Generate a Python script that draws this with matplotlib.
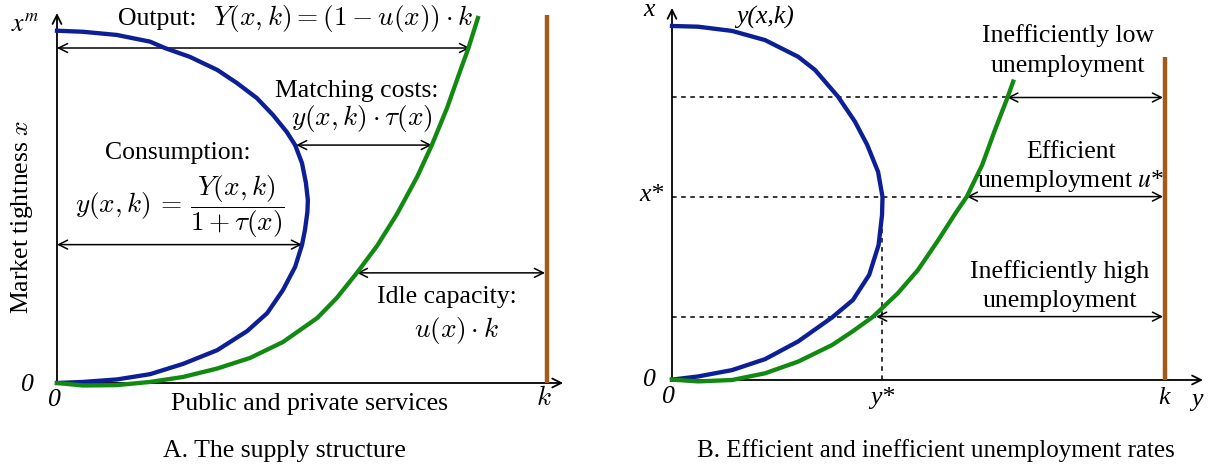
import matplotlib
matplotlib.use('Agg')
import matplotlib.pyplot as plt

plt.rcParams['font.family'] = ['Liberation Serif', 'DejaVu Serif']
plt.rcParams['mathtext.fontset'] = 'cm'

# Panel A: horizontal = services (k = 1), vertical = market tightness (x^m = 1)
blue_a_h = [0.000, 0.053, 0.122, 0.190, 0.220, 0.271, 0.327, 0.367, 0.408, 0.441, 0.469, 0.486,
            0.500, 0.508, 0.512, 0.511, 0.506, 0.500, 0.486, 0.461, 0.429, 0.388, 0.327, 0.257,
            0.190, 0.122, 0.053, 0.000]
blue_a_v = [0.998, 0.995, 0.986, 0.967, 0.949, 0.924, 0.887, 0.850, 0.807, 0.759, 0.711, 0.674,
            0.623, 0.567, 0.518, 0.484, 0.433, 0.391, 0.329, 0.263, 0.198, 0.147, 0.093, 0.054,
            0.025, 0.010, 0.003, 0.000]
green_a_h = [0, 0.053, 0.122, 0.190, 0.257, 0.327, 0.394, 0.461, 0.531, 0.571, 0.612, 0.653,
             0.694, 0.735, 0.765, 0.796, 0.822, 0.839, 0.859]
green_a_v = [0, -0.007, -0.006, 0.003, 0.017, 0.041, 0.071, 0.116, 0.184, 0.241, 0.312, 0.388,
             0.479, 0.584, 0.674, 0.779, 0.881, 0.946, 1.034]
k_a = 1.0
k_top_a = 1.042
# double arrows: (level, start, end)
arrows_a = [(0.949, 0.0, 0.843), (0.674, 0.488, 0.765), (0.392, 0.0, 0.500), (0.312, 0.612, 0.996)]

# Panel B
blue_b_h = [0, 0.053, 0.122, 0.189, 0.256, 0.290, 0.337, 0.371, 0.396, 0.418, 0.427, 0.426,
            0.419, 0.400, 0.367, 0.325, 0.256, 0.189, 0.122, 0.053, 0]
blue_b_v = [1.0, 0.998, 0.986, 0.960, 0.913, 0.876, 0.800, 0.730, 0.664, 0.588, 0.517, 0.466,
            0.381, 0.297, 0.226, 0.177, 0.109, 0.059, 0.028, 0.010, 0.001]
green_b_h = [0, 0.053, 0.122, 0.189, 0.256, 0.325, 0.365, 0.408, 0.458, 0.499, 0.540, 0.574,
             0.598, 0.629, 0.655, 0.680, 0.692]
green_b_v = [0.001, -0.004, 0.0, 0.019, 0.052, 0.099, 0.136, 0.179, 0.245, 0.311, 0.395, 0.469,
             0.518, 0.607, 0.706, 0.796, 0.843]
k_b = 1.0
k_top_b = 0.912
x_star, y_star = 0.518, 0.425
# dotted levels: (level, where the green curve is met)
levels_b = [(0.798, 0.680), (0.518, 0.598), (0.179, 0.414)]

BLUE = '#0c1f96'
GREEN = '#128a12'
BROWN = '#a45a18'
FS = 18.5
FM = 19.6


def harrow(ax, x0, x1, y, style='<->'):
    ax.annotate('', xy=(x1, y), xytext=(x0, y),
                arrowprops=dict(arrowstyle=style, lw=1.1, color='black',
                                shrinkA=0, shrinkB=0, mutation_scale=16))


def axes_arrows(ax, xend, yend):
    for xy in [(xend, 0), (0, yend)]:
        ax.annotate('', xy=xy, xytext=(0, 0),
                    arrowprops=dict(arrowstyle='->', lw=1.3, color='black',
                                    shrinkA=0, shrinkB=0, mutation_scale=16))


fig = plt.figure(figsize=(12.16, 4.71), dpi=100)
ax_a = fig.add_axes([0, 0, 0.5, 1])
ax_b = fig.add_axes([0.5, 0, 0.5, 1])
ax_a.set_xlim(-0.1163, 1.1245)
ax_a.set_ylim(-0.2493, 1.085)
ax_b.set_xlim(-0.1298, 1.1034)
ax_b.set_ylim(-0.2571, 1.0734)
for ax in (ax_a, ax_b):
    ax.axis('off')

# ---- panel A
axes_arrows(ax_a, 1.033, 1.048)
for lvl, x0, x1 in arrows_a:
    harrow(ax_a, x0, x1, lvl)
ax_a.plot(blue_a_h, blue_a_v, color=BLUE, lw=3.1, zorder=3, solid_joinstyle='round')
ax_a.plot(green_a_h, green_a_v, color=GREEN, lw=3.1, zorder=3, solid_joinstyle='round')
ax_a.plot([k_a, k_a], [0, k_top_a], color=BROWN, lw=3.2, zorder=3, solid_capstyle='butt')

ax_a.text(0.124, 1.014, 'Output:', ha='left', va='baseline', fontsize=FS)
ax_a.text(0.849, 1.014, r'$Y(x,k) = (1-u(x))\cdot k$', ha='right', va='baseline', fontsize=FM)
ax_a.text(0.612, 0.810, 'Matching costs:', ha='center', va='baseline', fontsize=FS)
ax_a.text(0.622, 0.731, r'$y(x,k)\cdot\tau(x)$', ha='center', va='baseline', fontsize=FM)
ax_a.text(0.247, 0.635, 'Consumption:', ha='center', va='baseline', fontsize=FS)
ax_a.text(0.251, 0.499, r'$y(x,k)\,=\,\dfrac{Y(x,k)}{1+\tau(x)}$', ha='center', va='center', fontsize=FM)
ax_a.text(0.796, 0.227, 'Idle capacity:', ha='center', va='baseline', fontsize=FS)
ax_a.text(0.816, 0.130, r'$u(x)\cdot k$', ha='center', va='baseline', fontsize=FM)
ax_a.text(-0.071, 0.470, r'Market tightness $x$', ha='center', va='center', rotation=90, fontsize=FS)
ax_a.text(0.516, -0.076, 'Public and private services', ha='center', va='baseline', fontsize=FS)
ax_a.text(-0.061, -0.006, '0', ha='center', va='center', style='italic', fontsize=FS)
ax_a.text(-0.006, -0.048, '0', ha='center', va='center', style='italic', fontsize=FS)
ax_a.text(0.994, -0.045, r'$k$', ha='center', va='center', fontsize=FM)
ax_a.text(-0.065, 1.014, r'$x^m$', ha='center', va='center', fontsize=FS, math_fontfamily='stix')
ax_a.text(0.465, -0.210, 'A. The supply structure', ha='center', va='baseline', fontsize=FS)

# ---- panel B
axes_arrows(ax_b, 1.077, 1.051)
for lvl, end in levels_b:
    ax_b.plot([0, end], [lvl, lvl], color='black', lw=1.1, ls=(0, (3, 3)), zorder=2)
    harrow(ax_b, end, 0.996, lvl)
ax_b.plot([y_star, y_star], [0, x_star], color='black', lw=1.1, ls=(0, (3, 3)), zorder=2)
ax_b.plot(blue_b_h, blue_b_v, color=BLUE, lw=3.1, zorder=3, solid_joinstyle='round')
ax_b.plot(green_b_h, green_b_v, color=GREEN, lw=3.1, zorder=3, solid_joinstyle='round')
ax_b.plot([k_b, k_b], [0, k_top_b], color=BROWN, lw=3.2, zorder=3, solid_capstyle='butt')

ax_b.text(-0.047, 1.045, 'x', ha='center', va='center', style='italic', fontsize=FS)
ax_b.text(0.189, 1.023, 'y(x,k)', ha='center', va='center', style='italic', fontsize=FS)
ax_b.text(-0.041, 0.523, 'x*', ha='center', va='center', style='italic', fontsize=FS)
ax_b.text(-0.045, 0.0, '0', ha='center', va='center', style='italic', fontsize=FS)
ax_b.text(-0.008, -0.048, '0', ha='center', va='center', style='italic', fontsize=FS)
ax_b.text(0.426, -0.051, 'y*', ha='center', va='center', style='italic', fontsize=FS)
ax_b.text(0.998, -0.051, 'k', ha='center', va='center', style='italic', fontsize=FS)
ax_b.text(1.065, -0.056, 'y', ha='center', va='center', style='italic', fontsize=FS)

ax_b.text(0.803, 0.955, 'Inefficiently low', ha='center', va='baseline', fontsize=FS)
ax_b.text(0.803, 0.870, 'unemployment', ha='center', va='baseline', fontsize=FS)
ax_b.text(0.809, 0.627, 'Efficient', ha='center', va='baseline', fontsize=FS)
ax_b.text(0.809, 0.545, r'unemployment $u$*', ha='center', va='baseline', fontsize=FS,
          math_fontfamily='stix')
ax_b.text(0.787, 0.288, 'Inefficiently high', ha='center', va='baseline', fontsize=FS)
ax_b.text(0.787, 0.206, 'unemployment', ha='center', va='baseline', fontsize=FS)
ax_b.text(0.535, -0.218, 'B. Efficient and inefficient unemployment rates', ha='center', va='baseline', fontsize=18)

fig.savefig('out.png', dpi=100)
